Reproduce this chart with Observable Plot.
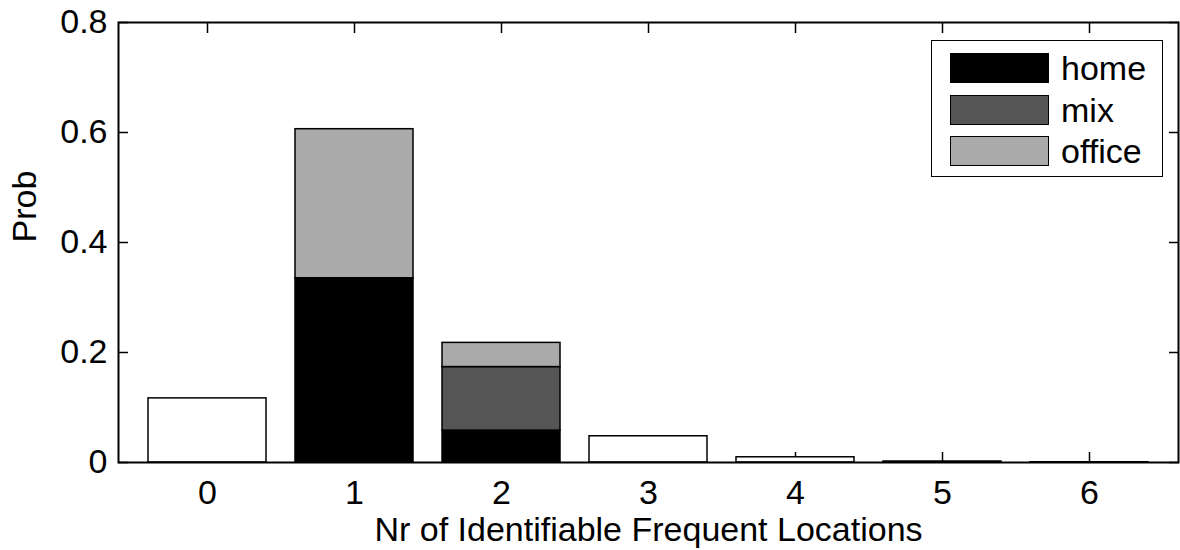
<!DOCTYPE html>
<html><head><meta charset="utf-8">
<script src="https://cdn.jsdelivr.net/npm/d3@7"></script>
<script src="https://cdn.jsdelivr.net/npm/@observablehq/plot@0.6"></script>
<style>
body{margin:0;background:#fff;font-family:'Liberation Sans',Arial,Helvetica,sans-serif;}
#wrap{position:relative;width:1180px;height:550px;}
#legend{position:absolute;left:931px;top:40px;width:232px;height:137px;border:1.5px solid #000;background:#fff;box-sizing:border-box;}
.item{position:absolute;left:18px;height:30px;display:flex;align-items:center;}
.sw{width:99px;height:30px;border:1px solid #000;box-sizing:border-box;margin-right:12px;}
.lt{font-size:34px;line-height:30px;color:#000;}
</style></head><body><div id="wrap"></div>
<script>
const categories = [0, 1, 2, 3, 4, 5, 6];
const home = [0, 0.335, 0.058, 0, 0, 0, 0];
const mix = [0, 0, 0.1155, 0, 0, 0, 0];
const office = [0, 0.271, 0.044, 0, 0, 0, 0];
const unclassified = [0.1166, 0, 0, 0.0477, 0.0095, 0.0018, 0.0005];
const seriesNames = ["home", "mix", "office"];
const seriesColors = ["#000000", "#555555", "#aaaaaa"];
const yTicks = [0, 0.2, 0.4, 0.6, 0.8];
const xLabel = "Nr of Identifiable Frequent Locations";
const yLabel = "Prob";

const seriesValues = {home, mix, office, none: unclassified};
const rows = [];
categories.forEach((c, i) => {
  for (const k of ["home", "mix", "office", "none"]) {
    const v = seriesValues[k][i];
    if (v > 0) rows.push({cat: c, type: k, value: v});
  }
});

const chart = Plot.plot({
  width: 1180, height: 550,
  marginLeft: 118, marginRight: 2, marginTop: 22, marginBottom: 88,
  style: {fontFamily: "'Liberation Sans', Arial, Helvetica, sans-serif", fontSize: "34px", color: "#000", background: "#fff", overflow: "visible"},
  x: {type: "band", domain: categories, paddingInner: 0.2, paddingOuter: 0.2, align: 0.5},
  y: {domain: [0, 0.8]},
  color: {domain: [...seriesNames, "none"], range: [...seriesColors, "#ffffff"]},
  marks: [
    Plot.axisY({anchor: "left", ticks: yTicks, tickSize: -10, tickPadding: 21, strokeWidth: 1.5, tickFormat: d => String(d), label: null}),
    Plot.axisY({anchor: "right", ticks: yTicks, tickSize: -10, strokeWidth: 1.5, tickFormat: () => "", label: null}),
    Plot.axisX({anchor: "bottom", tickSize: -10, tickPadding: 27, strokeWidth: 1.5, label: null}),
    Plot.axisX({anchor: "top", tickSize: -10, strokeWidth: 1.5, tickFormat: () => "", label: null}),
    Plot.barY(rows, {x: "cat", y: "value", fill: "type", stroke: "#000", strokeWidth: 1.5}),
    Plot.frame({stroke: "#000", strokeWidth: 2}),
    Plot.text([xLabel], {frameAnchor: "bottom", lineAnchor: "middle", dy: 68, fontSize: 34}),
    Plot.text([yLabel], {frameAnchor: "left", lineAnchor: "middle", rotate: -90, dx: -93, fontSize: 34})
  ]
});
const wrap = document.getElementById("wrap");
wrap.appendChild(chart);
const legend = document.createElement("div");
legend.id = "legend";
const color = chart.scale("color");
const tops = [12, 54, 95];
seriesNames.forEach((n, i) => {
  const it = document.createElement("div");
  it.className = "item";
  it.style.top = tops[i] + "px";
  const sw = document.createElement("div");
  sw.className = "sw";
  sw.style.background = color.apply(n);
  const t = document.createElement("span");
  t.className = "lt";
  t.textContent = n;
  it.appendChild(sw); it.appendChild(t);
  legend.appendChild(it);
});
wrap.appendChild(legend);
</script></body></html>
